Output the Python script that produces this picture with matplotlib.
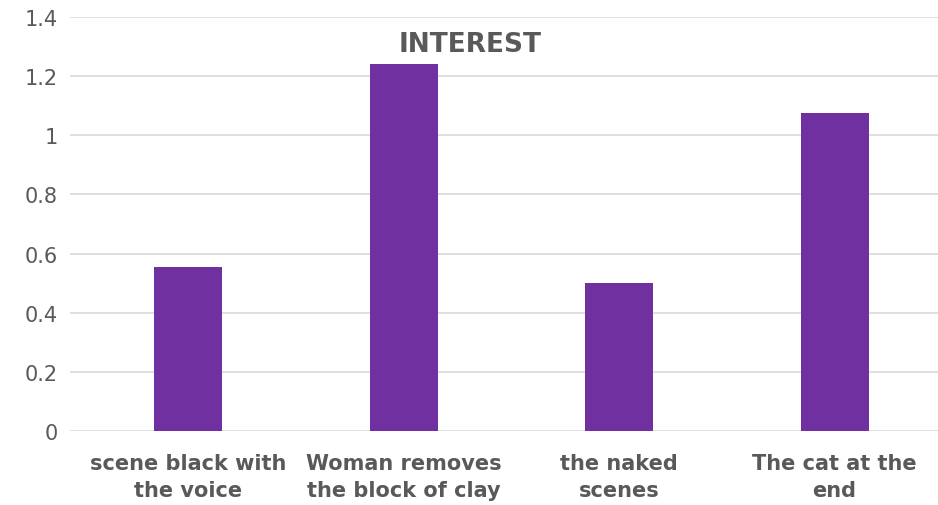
import matplotlib.pyplot as plt

categories = ['scene black with\nthe voice', 'Woman removes\nthe block of clay',
              'the naked\nscenes', 'The cat at the\nend']
values = [0.555, 1.24, 0.50, 1.077]
yticks = [0, 0.2, 0.4, 0.6, 0.8, 1, 1.2, 1.4]
ytick_labels = ['0', '0.2', '0.4', '0.6', '0.8', '1', '1.2', '1.4']

text_col = '#595959'
fig = plt.figure(figsize=(9.38, 5.06), dpi=100)
ax = fig.add_axes([70 / 938, 1 - 432 / 506, 868 / 938, 414 / 506])

ax.bar(range(len(categories)), values, width=0.316, color='#7030A0', zorder=3)
ax.set_xlim(-0.55, 3.48)
ax.set_ylim(0, 1.4)
ax.set_yticks(yticks)
ax.set_yticklabels(ytick_labels, fontsize=15, color=text_col)
ax.set_xticks(range(len(categories)))
ax.set_xticklabels(categories, fontsize=15, fontweight='bold', color=text_col, linespacing=1.45)
ax.tick_params(axis='both', length=0)
ax.tick_params(axis='y', pad=9)
ax.tick_params(axis='x', pad=16)
ax.grid(axis='y', color='#d9d9d9', linewidth=1.2, zorder=0)
for s in ax.spines.values():
    s.set_visible(False)

fig.text(470 / 938, 1 - 45 / 506, 'INTEREST', ha='center', va='center',
         fontsize=19, fontweight='bold', color=text_col)

fig.savefig('out.png', dpi=100)
